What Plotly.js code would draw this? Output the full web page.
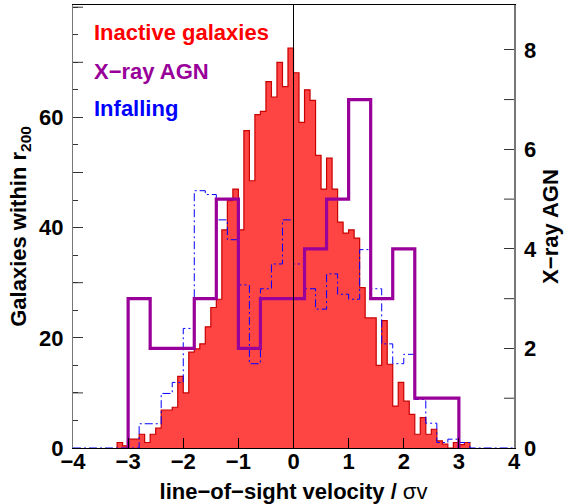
<!DOCTYPE html>
<html>
<head>
<meta charset="utf-8">
<script src="https://cdn.plot.ly/plotly-3.0.1.min.js"></script>
<style>html,body{margin:0;padding:0;background:#fff;}</style>
</head>
<body>
<div id="chart" style="width:569px;height:504px;"></div>
<script>
// Inactive galaxies: bin edges (width 0.1) and counts
const redEdges = [-3.2,-3.1,-3.0,-2.9,-2.8,-2.7,-2.6,-2.5,-2.4,-2.3,-2.2,-2.1,-2.0,-1.9,-1.8,-1.7,-1.6,-1.5,-1.4,-1.3,-1.2,-1.1,-1.0,-0.9,-0.8,-0.7,-0.6,-0.5,-0.4,-0.3,-0.2,-0.1,0.0,0.1,0.2,0.3,0.4,0.5,0.6,0.7,0.8,0.9,1.0,1.1,1.2,1.3,1.4,1.5,1.6,1.7,1.8,1.9,2.0,2.1,2.2,2.3,2.4,2.5,2.6,2.7,2.8,2.9,3.0,3.1,3.2];
const redCounts = [1,0.4,1.6,1.6,2.5,1,2.5,3.6,6.9,6.9,7.4,13,10,17.4,18,18.9,22,25.5,27,39.6,44.9,47,39.6,57.6,48.5,60.5,61.1,66.5,63.7,70,65.6,72.6,68.1,59.1,65,63.1,53.1,47,52.6,47,41,39,39.6,38.1,29.1,23.6,23.6,15,23.1,15.2,7.6,11.9,8.5,6.1,2.5,5.5,2.5,3.4,1.3,0.7,0,1,0.6,1];

// Infalling galaxies: bin edges and counts
const blueEdges = [-4.0,-2.8,-2.6,-2.4,-2.2,-2.0,-1.8,-1.6,-1.4,-1.2,-1.0,-0.8,-0.6,-0.4,-0.2,0.0,0.2,0.4,0.6,0.8,1.0,1.2,1.4,1.6,1.8,2.0,2.2,2.4,2.6,2.8,3.0,3.2,4.0];
const blueCounts = [0,4.4,4.4,9.9,11.9,21.7,46.7,46,41.4,37.8,29.6,15.3,28.9,33.4,41.4,33.4,28.9,25.2,31.6,27.9,27,36,28.9,18.9,15.3,17,8.8,4.5,1,1.6,1,0];

// X-ray AGN: bin edges (width 0.4) and counts
const agnEdges = [-3.0,-2.6,-2.2,-1.8,-1.4,-1.0,-0.6,-0.2,0.2,0.6,1.0,1.4,1.8,2.2,2.6,3.0];
const agnCounts = [3,2,2,3,5,2,3,3,4,5,7,3,4,1,1];

const xTicks = [-4,-3,-2,-1,0,1,2,3,4];
const yLabelTicks = [0,20,40,60];
const yLongTicks = [10,30,50,70,80];
const y2Ticks = [0,2,4,6,8];

function steps(edges, counts) {
  const xs = [edges[0]], ys = [0];
  for (let i = 0; i < counts.length; i++) { xs.push(edges[i]); ys.push(counts[i]); }
  xs.push(edges[edges.length - 1]); ys.push(counts[counts.length - 1]);
  xs.push(edges[edges.length - 1]); ys.push(0);
  return {xs, ys};
}

const r = steps(redEdges, redCounts);
const b = steps(blueEdges, blueCounts);
const a = steps(agnEdges, agnCounts);

const FONT = 'Liberation Sans, Arial, Helvetica, sans-serif';

const traces = [
  {x: r.xs, y: r.ys, type: 'scatter', mode: 'lines', line: {shape: 'hv', color: '#c80000', width: 1.2},
   fill: 'tozeroy', fillcolor: '#ff4444', hoverinfo: 'skip', showlegend: false, name: 'Inactive galaxies'},
  {x: b.xs, y: b.ys, type: 'scatter', mode: 'lines', line: {shape: 'hv', color: '#0000ff', width: 1, dash: '8px,3px,2px,3px'},
   hoverinfo: 'skip', showlegend: false, name: 'Infalling'},
  {x: a.xs, y: a.ys, type: 'scatter', mode: 'lines', yaxis: 'y2', line: {shape: 'hv', color: '#990099', width: 3.2},
   hoverinfo: 'skip', showlegend: false, name: 'X-ray AGN'}
];

const tickFont = {family: FONT, size: 22, color: '#000', weight: 'bold'};

// extra long ticks (unlabelled) on the left axis, placed through the y scale
const longTickShapes = yLongTicks.map(v => ({
  type: 'line', xref: 'paper', yref: 'y', x0: 0, x1: 10 / 441, y0: v, y1: v,
  line: {color: '#333', width: 1}, layer: 'above'
}));
// unlabelled odd ticks on the right axis
const y2OddTicks = [1,3,5,7];
const rightTickShapes = y2OddTicks.map(v => ({
  type: 'line', xref: 'paper', yref: 'y2', x0: 1 - 10 / 441, x1: 1, y0: v, y1: v,
  line: {color: '#333', width: 1}, layer: 'above'
}));

const layout = {
  width: 569, height: 504,
  margin: {l: 73, r: 55, t: 5, b: 56, pad: 0},
  paper_bgcolor: '#fff', plot_bgcolor: '#fff',
  showlegend: false,
  xaxis: {
    range: [-4, 4], tickvals: xTicks, ticks: 'inside', ticklen: 10, tickcolor: '#000', tickwidth: 1,
    showline: true, linecolor: '#000', linewidth: 1, mirror: true, zeroline: false, showgrid: false,
    tickfont: tickFont, ticklabelstandoff: -6,
    title: {text: 'line−of−sight velocity / <span style="font-weight:normal">σv</span>', font: {family: FONT, size: 22, color: '#000', weight: 'bold'}, standoff: 12}
  },
  yaxis: {
    range: [0, 80.4], tickvals: yLabelTicks, ticks: 'inside', ticklen: 10, tickcolor: '#333', tickwidth: 1,
    minor: {dtick: 5, ticks: 'inside', ticklen: 5, tickcolor: '#333', tickwidth: 1, showgrid: false},
    showline: true, linecolor: '#777', linewidth: 1, zeroline: false, showgrid: false,
    tickfont: tickFont, ticklabelstandoff: 4,
    title: {text: 'Galaxies within r<sub>200</sub>', font: {family: FONT, size: 22, color: '#000', weight: 'bold'}, standoff: 6}
  },
  yaxis2: {
    range: [0, 8.9], overlaying: 'y', side: 'right', tickvals: y2Ticks,
    ticks: 'inside', ticklen: 10, tickcolor: '#333', tickwidth: 1,
    showline: true, linecolor: '#777', linewidth: 1.5, zeroline: false, showgrid: false,
    tickfont: tickFont, ticklabelstandoff: 4,
    title: {text: 'X−ray AGN', font: {family: FONT, size: 22, color: '#000', weight: 'bold'}, standoff: 6}
  },
  shapes: [
    {type: 'line', xref: 'x', yref: 'paper', x0: 0, x1: 0, y0: 0, y1: 1, line: {color: '#000', width: 1}, layer: 'above'}
  ].concat(longTickShapes, rightTickShapes),
  annotations: [
    {text: 'Inactive galaxies', xref: 'paper', yref: 'paper', x: 0.043, y: 0.937, xanchor: 'left', yanchor: 'middle', showarrow: false,
     font: {family: FONT, size: 22, color: '#ff0000', weight: 'bold'}},
    {text: 'X−ray AGN', xref: 'paper', yref: 'paper', x: 0.043, y: 0.849, xanchor: 'left', yanchor: 'middle', showarrow: false,
     font: {family: FONT, size: 22, color: '#990099', weight: 'bold'}},
    {text: 'Infalling', xref: 'paper', yref: 'paper', x: 0.043, y: 0.767, xanchor: 'left', yanchor: 'middle', showarrow: false,
     font: {family: FONT, size: 22, color: '#0000ff', weight: 'bold'}}
  ]
};

Plotly.newPlot('chart', traces, layout, {staticPlot: true, displayModeBar: false});
</script>
</body>
</html>
